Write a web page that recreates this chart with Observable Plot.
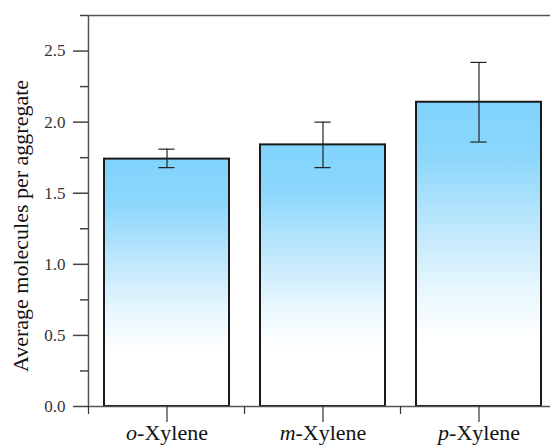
<!DOCTYPE html>
<html>
<head>
<meta charset="utf-8">
<script src="https://cdn.jsdelivr.net/npm/d3@7"></script>
<script src="https://cdn.jsdelivr.net/npm/@observablehq/plot@0.6"></script>
<style>
  html, body { margin: 0; padding: 0; background: white; overflow: hidden; }
</style>
</head>
<body>
<div id="chart"></div>
<script>
const categories = ["o-Xylene", "m-Xylene", "p-Xylene"];
const prefixes = ["o", "m", "p"];
const means = [1.74, 1.84, 2.14];
const errLow = [1.68, 1.68, 1.86];
const errHigh = [1.81, 2.00, 2.42];
const majorTicks = [0, 0.5, 1.0, 1.5, 2.0, 2.5];
const minorTicks = [0.25, 0.75, 1.25, 1.75, 2.25, 2.75];
const yLabel = "Average molecules per aggregate";

const data = categories.map((name, i) => ({name, mean: means[i], lo: errLow[i], hi: errHigh[i]}));
const serif = "Liberation Serif";

const gradientDefs = () => {
  const defs = d3.create("svg:defs");
  const g = defs.append("linearGradient").attr("id", "barGrad")
    .attr("x1", 0).attr("y1", 0).attr("x2", 0).attr("y2", 1);
  [[0, "#80d3fd"], [0.18, "#8cd7fc"], [0.45, "#c6eafc"], [0.62, "#e8f7fe"], [0.78, "#ffffff"], [1, "#ffffff"]]
    .forEach(([o, c]) => g.append("stop").attr("offset", o).attr("stop-color", c));
  return defs.node();
};

const plot = Plot.plot({
  width: 550,
  height: 446,
  marginLeft: 88,
  marginRight: -6,
  marginTop: 15,
  marginBottom: 40,
  style: {fontFamily: serif, fontSize: "17px", color: "#333", background: "white"},
  x: {domain: categories, paddingInner: 0.2, paddingOuter: 0.1},
  y: {domain: [0, 2.75]},
  marks: [
    gradientDefs,
    Plot.barY(data, {x: "name", y: "mean", fill: "url(#barGrad)", stroke: "#1a1a1a", strokeWidth: 2}),
    Plot.ruleX(data, {x: "name", y1: "lo", y2: "hi", stroke: "#222", strokeWidth: 1.2}),
    Plot.tickY(data, {x: "name", y: "hi", stroke: "#222", strokeWidth: 1.2, insetLeft: 54.4, insetRight: 54.4}),
    Plot.tickY(data, {x: "name", y: "lo", stroke: "#222", strokeWidth: 1.2, insetLeft: 54.4, insetRight: 54.4}),
    Plot.frame({stroke: "#555", strokeWidth: 1.5}),
    Plot.axisY(majorTicks, {tickSize: 15, text: null, label: null, stroke: "#444", strokeWidth: 1.5}),
    Plot.axisY(minorTicks, {tickSize: 8, text: null, label: null, stroke: "#444", strokeWidth: 1.5}),
    Plot.text(majorTicks, {y: d => d, text: d3.format(".1f"), frameAnchor: "left", textAnchor: "end", lineAnchor: "middle", dx: -23, fontSize: 17, fontFamily: serif, fill: "#333"}),
    Plot.axisX({tickSize: 16, text: null, label: null, stroke: "#333", strokeWidth: 1.2}),
    Plot.text(categories, {x: d => d, text: d => d, frameAnchor: "bottom", lineAnchor: "top", dy: 18, fontSize: 22, fontFamily: serif, fill: "#111"}),
    Plot.text([yLabel], {frameAnchor: "left", textAnchor: "middle", lineAnchor: "middle", rotate: -90, dx: -68, dy: 15, fontSize: 22, fontFamily: serif, fill: "#111"})
  ]
});

// italic prefixes on category labels
d3.select(plot).selectAll("text").each(function() {
  const t = d3.select(this);
  const full = t.text();
  const k = categories.indexOf(full);
  if (k < 0) return;
  t.text(null);
  t.append("tspan").attr("font-style", "italic").text(prefixes[k]);
  t.append("tspan").text(full.slice(prefixes[k].length));
});

// minor x ticks at the band boundaries, computed from the x scale
const xs = plot.scale("x");
const gap = xs.step - xs.bandwidth;
const yBase = plot.scale("y").apply(0);
const g = d3.select(plot).append("g").attr("stroke", "#333").attr("stroke-width", 1.2);
categories.forEach(c => {
  const bx = xs.apply(c) - gap / 2;
  g.append("line").attr("x1", bx).attr("x2", bx).attr("y1", yBase).attr("y2", yBase + 8);
});

document.getElementById("chart").appendChild(plot);
</script>
</body>
</html>
